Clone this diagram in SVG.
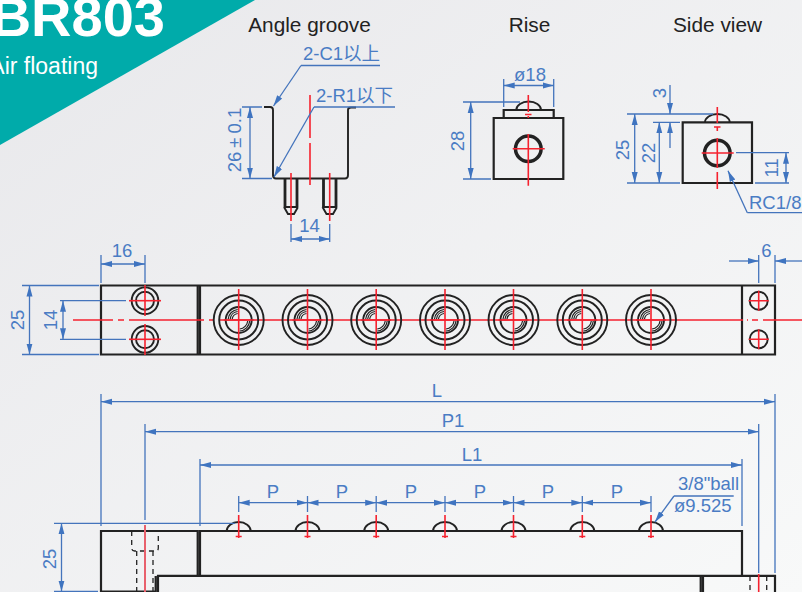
<svg xmlns="http://www.w3.org/2000/svg" xmlns:xlink="http://www.w3.org/1999/xlink" width="802" height="592" viewBox="0 0 802 592">
<style>
text{font-family:"Liberation Sans",Arial,"Noto Sans CJK SC",sans-serif}
.d{fill:#4a7cc4;font-size:18.500px}
.m{text-anchor:middle}
.h{fill:#222;font-size:20.800px;text-anchor:middle}
.k{fill:none;stroke:#222;stroke-width:1.9}
.k2{fill:none;stroke:#222;stroke-width:2.200}
.kn{fill:none;stroke:#222;stroke-width:1.200}
.kt{fill:none;stroke:#222;stroke-width:2.800}
.k3{fill:none;stroke:#222;stroke-width:3.500}
.ks{fill:none;stroke:#222;stroke-width:1.300;stroke-dasharray:5 4}
.r{fill:none;stroke:#f5222f;stroke-width:1.600}
.b{fill:none;stroke:#4474bc;stroke-width:1.300}
.a{fill:none;stroke:#4474bc;stroke-width:1.300;marker-start:url(#ar);marker-end:url(#ar)}
.e{fill:none;stroke:#4474bc;stroke-width:1.300;marker-end:url(#ar)}
</style>
<defs>
<linearGradient id="bg" x1="0" y1="0" x2="1" y2="1"><stop offset="0" stop-color="#e8e8eb"/><stop offset="1" stop-color="#f8f9f9"/></linearGradient>
<marker id="ar" markerUnits="userSpaceOnUse" markerWidth="12" markerHeight="8" refX="11" refY="4" orient="auto-start-reverse"><path d="M0,1 L11,4 L0,7 Z" fill="#3f74c0"/></marker>
<g id="port">
<circle class="k" r="25"/><circle class="k" r="19.500"/><circle class="k" r="13"/>
<path class="kn" d="M-10.500,-1 A10.500,10.500 0 0 1 -1,-10.500 M-8.500,-1 A8.500,8.500 0 0 1 -1,-8.500 M-6.500,-1 A6.500,6.500 0 0 1 -1,-6.500 M1,11 A11,11 0 0 0 11,1 M1,9 A9,9 0 0 0 9,1"/>
<path class="r" d="M0,-31 V30 M-15,0 H15"/>
</g>
<g id="ball">
<path class="k" d="M-12,0 A12,9 0 0 1 12,0"/>
<path class="r" d="M0,-16 V7 M-3,5.500 H3"/>
</g>
<g id="lh"><circle class="k" r="13.300"/><circle class="k" r="9"/><path class="r" d="M-16,0 H16"/></g>
<g id="rh"><circle class="k" r="9"/><path class="r" d="M-10,0 H10 M0,-10 V10"/></g>
</defs>
<rect width="802" height="592" fill="url(#bg)"/>
<g id="banner">
<path d="M0,0 H255 L0,145 Z" fill="#00abaa"/>
<text x="165" y="36" font-size="56" font-weight="700" fill="#fff" text-anchor="end">BR803</text>
<text x="98" y="74" font-size="23" fill="#fff" text-anchor="end">Air floating</text>
</g>
<g id="angle-groove">
<text class="h" x="309.500" y="32">Angle groove</text>
<path class="k" d="M264,107 H270 Q273,107 273,110 V175 Q273,178.500 276,178.500 H345 Q348,178.500 348,175 V110 Q348,107.500 351,107.500 H356"/>
<path class="kt" d="M285,178 V207 M297,178 V207 M323.500,178 V207 M336,178 V207"/>
<path class="k" d="M284,207 H298 M322.500,207 H337 M284,207 L288,214 H294 L298,207 M322.500,207 L326.500,214 H333 L337,207"/>
<path class="r" d="M310,95 V138 M310,143 V185 M291,173 V221 M329.700,173 V221"/>
<g>
<path class="b" d="M291,224 V242 M329.700,224 V242 M242,107 H262 M242,178.500 H272 M380,65.500 H301 M395,107 H314"/>
<path class="a" d="M291,239 H329.700"/>
<path class="a" d="M250,107 V178.500"/>
<path class="e" d="M301,65.500 L273.500,106"/>
<path class="e" d="M314,107 L274,177"/>
<text class="d m" x="309.500" y="232">14</text>
<text class="d m" transform="translate(241,140) rotate(-90)">26<tspan dx="4">±</tspan><tspan dx="4">0.1</tspan></text>
<text class="d" x="303" y="60">2-C1以上</text>
<text class="d" x="316" y="102">2-R1以下</text>
</g>
</g>
<g id="rise">
<text class="h" x="529.500" y="32">Rise</text>
<path class="k2" d="M493.700,118 H563.300 V179 H493.700 Z M503.700,118 V110 H553.700 V118"/>
<path class="k" d="M516.300,110 A12.350,8.500 0 0 1 541,110"/>
<circle class="k3" cx="528.300" cy="148.700" r="12.800"/>
<path class="r" d="M512.700,148.700 H544.700 M528.300,95 V112 M525,114.500 H531.500 M528.300,116 V118 M528.300,134 V185.700"/>
<path class="b" d="M503.700,79 V107 M553.700,79 V107 M463,102 H520 M463,179 H491"/>
<path class="a" d="M503.700,85.500 H553.700"/>
<path class="a" d="M470.700,102 V179"/>
<text class="d m" x="530" y="81">ø18</text>
<text class="d m" transform="translate(464,141) rotate(-90)">28</text>
</g>
<g id="side-view">
<text class="h" x="717.500" y="32">Side view</text>
<path class="k2" d="M682.700,122.300 H752 V183 H682.700 Z"/>
<path class="k" d="M705,122.300 A12.350,8.300 0 0 1 729.700,122.300"/>
<circle class="k3" cx="717.300" cy="153" r="12.800"/>
<path class="r" d="M701.700,153 H733.700 M717.300,107 V123 M714,127 H720.500 M717.300,127 V131 M717.300,138 V168 M717.300,172 V189"/>
<path class="b" d="M627,114 H713 M653,122.300 H680 M627,183 H680 M736,152.700 H789 M755,183 H789"/>
<path class="a" d="M634.700,114 V183"/>
<path class="a" d="M659.300,122.300 V183"/>
<path class="e" d="M670,85 V114"/>
<path class="e" d="M670,148 V122.300"/>
<path class="a" d="M786,152.700 V183"/>
<path class="b" d="M802,212.700 H747.300"/>
<path class="e" d="M747.300,212.700 L728,170.700"/>
<text class="d m" transform="translate(629,150) rotate(-90)">25</text>
<text class="d m" transform="translate(655,153) rotate(-90)">22</text>
<text class="d m" transform="translate(666,93) rotate(-90)">3</text>
<text class="d m" transform="translate(778,168) rotate(-90)">11</text>
<text class="d" x="749" y="208.500">RC1/8</text>
</g>
<g id="top-view">
<path class="k2" d="M101,285.500 H775 V354.500 H101 Z M197.700,285.500 V354.500 M200,285.500 V354.500 M742,285.500 V354.500"/>
<path class="r" d="M73,320 H113 M118,320 H124 M129,320 H204 M209,320 H214 M219,320 H743 M747,320 H748 M752,320 H758 M763,320 H802"/>
<use xlink:href="#lh" href="#lh" x="145" y="300.700"/>
<use xlink:href="#lh" href="#lh" x="145" y="339.300"/>
<path class="r" d="M145,285 V316 M145,324 V355"/>
<use xlink:href="#port" href="#port" x="238.700" y="320"/>
<use xlink:href="#port" href="#port" x="307.500" y="320"/>
<use xlink:href="#port" href="#port" x="376.200" y="320"/>
<use xlink:href="#port" href="#port" x="445" y="320"/>
<use xlink:href="#port" href="#port" x="513.500" y="320"/>
<use xlink:href="#port" href="#port" x="582.300" y="320"/>
<use xlink:href="#port" href="#port" x="651" y="320"/>
<use xlink:href="#rh" href="#rh" x="758.700" y="300.700"/>
<use xlink:href="#rh" href="#rh" x="758.700" y="339.300"/>
<path class="b" d="M101,255 V283 M145,255 V283 M22,285.500 H99 M22,354.500 H99 M60,300.700 H126 M60,339.300 H126 M758.700,255 V283 M775,255 V283"/>
<path class="a" d="M101,264 H145"/>
<path class="a" d="M29.500,285.500 V354.500"/>
<path class="a" d="M63,300.700 V339.300"/>
<path class="e" d="M729,261 H758.700"/>
<path class="e" d="M802,261 H775"/>
<text class="d m" x="122" y="257">16</text>
<text class="d m" transform="translate(24,320) rotate(-90)">25</text>
<text class="d m" transform="translate(57,320) rotate(-90)">14</text>
<text class="d m" x="766.500" y="257">6</text>
</g>
<g id="side-section">
<path class="k2" d="M101,592 V531 H197.700 V576 M200,576 V531 H742 V576"/>
<path class="k2" d="M155.700,592 V576 M158,592 V575.800 H775 V592 M700.700,576 V592 M703,576 V592"/>
<path class="k" d="M101,591.500 H155"/>
<path class="ks" d="M131.700,531 V548 Q131.700,551 134.700,551 H155.300 Q158.300,551 158.300,548 V531 M136.700,551 V592 M153,551 V592 M750,576 V592 M766.700,576 V592"/>
<path d="M145,525 V592" fill="none" stroke="#e8606c" stroke-width="2"/>
<path class="r" d="M758.700,574 V592"/>
<use xlink:href="#ball" href="#ball" x="238.700" y="531"/>
<use xlink:href="#ball" href="#ball" x="307.500" y="531"/>
<use xlink:href="#ball" href="#ball" x="376.200" y="531"/>
<use xlink:href="#ball" href="#ball" x="445" y="531"/>
<use xlink:href="#ball" href="#ball" x="513.500" y="531"/>
<use xlink:href="#ball" href="#ball" x="582.300" y="531"/>
<use xlink:href="#ball" href="#ball" x="651" y="531"/>
</g>
<g id="connectors">
<path class="b" d="M101,394 V526 M145,424 V520 M200,459 V526 M742,459 V526 M758.700,424 V573 M775,394 V573 M54,523.300 H235 M54,591.500 H98 M238.700,496 V512 M307.500,496 V512 M376.200,496 V512 M445,496 V512 M513.500,496 V512 M582.300,496 V512 M651,496 V512 M733.700,496 H674"/>
<path class="a" d="M101,401.700 H775"/>
<path class="a" d="M145,431.700 H758.700"/>
<path class="a" d="M200,465 H742"/>
<path class="a" d="M238.700,502.700 H307.500"/>
<path class="a" d="M307.500,502.700 H376.200"/>
<path class="a" d="M376.200,502.700 H445"/>
<path class="a" d="M445,502.700 H513.500"/>
<path class="a" d="M513.500,502.700 H582.300"/>
<path class="a" d="M582.300,502.700 H651"/>
<path class="a" d="M61.500,523.300 V591.500"/>
<path class="e" d="M674,496 L655,522"/>
</g>
<g id="labels">
<text class="d m" x="437" y="397">L</text>
<text class="d m" x="453" y="427">P1</text>
<text class="d m" x="472" y="461">L1</text>
<text class="d m" x="273" y="498">P</text>
<text class="d m" x="342" y="498">P</text>
<text class="d m" x="411" y="498">P</text>
<text class="d m" x="480" y="498">P</text>
<text class="d m" x="548" y="498">P</text>
<text class="d m" x="617" y="498">P</text>
<text class="d" x="678" y="490">3/8"ball</text>
<text class="d" x="674" y="512">ø9.525</text>
<text class="d m" transform="translate(56,559) rotate(-90)">25</text>
</g>
</svg>
